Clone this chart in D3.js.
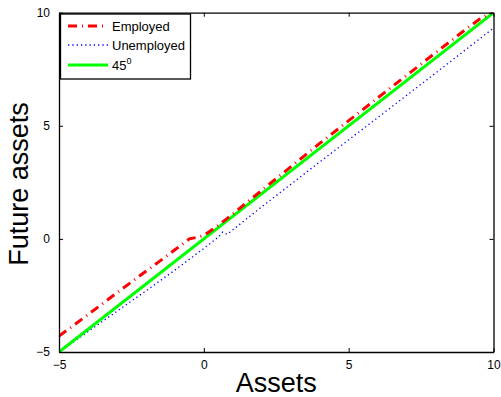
<!DOCTYPE html>
<html>
<head>
<meta charset="utf-8">
<script src="https://cdn.jsdelivr.net/npm/d3@7"></script>
<style>
  body { margin: 0; background: #fff; }
  text { font-family: "Liberation Sans", Arial, sans-serif; }
</style>
</head>
<body>
<div id="chart"></div>
<script>
// values
var employedX = [-5, -4, -3, -2, -1.5, -1, -0.5, -0.2, 0, 0.5, 1, 2, 4, 6, 8, 9, 9.5, 10];
var employedY = [-4.3, -3.35, -2.38, -1.43, -0.96, -0.48, 0.0, 0.08, 0.15, 0.6, 1.1, 2.15, 4.22, 6.23, 8.23, 9.22, 9.7, 10.05];
var unemployedX = [-5, -4, -3, -2, -1, 0, 0.5, 0.65, 0.8, 1, 2, 4, 6, 8, 10];
var unemployedY = [-5, -4.1, -3.2, -2.3, -1.38, -0.42, 0.08, 0.3, 0.2, 0.4, 1.42, 3.4, 5.36, 7.33, 9.32];
var diagX = [-5, 10];
var diagY = [-5, 10];
var xTicks = [-5, 0, 5, 10];
var yTicks = [-5, 0, 5, 10];
var legendLabels = ["Employed", "Unemployed", "45"];

var W = 501, H = 397;
var plotL = 59, plotR = 493.5, plotT = 12.7, plotB = 352;

var svg = d3.select("#chart").append("svg")
  .attr("width", W)
  .attr("height", H);

var x = d3.scaleLinear().domain([-5, 10]).range([plotL, plotR]);
var y = d3.scaleLinear().domain([-5, 10]).range([plotB, plotT]);

svg.append("clipPath").attr("id", "clip")
  .append("rect")
  .attr("x", plotL).attr("y", plotT)
  .attr("width", plotR - plotL).attr("height", plotB - plotT);

var line = d3.line()
  .x(function (d) { return x(d[0]); })
  .y(function (d) { return y(d[1]); });

var series = [
  { xs: unemployedX, ys: unemployedY, color: "#0000ff", width: 1.3, dash: "1.3,3" },
  { xs: diagX, ys: diagY, color: "#00ff00", width: 3, dash: null },
  { xs: employedX, ys: employedY, color: "#ff0000", width: 3, dash: "9,5,1,5" }
];

var plot = svg.append("g").attr("clip-path", "url(#clip)");
series.forEach(function (s) {
  plot.append("path")
    .datum(d3.zip(s.xs, s.ys))
    .attr("fill", "none")
    .attr("stroke", s.color)
    .attr("stroke-width", s.width)
    .attr("stroke-dasharray", s.dash)
    .attr("d", line);
});

// axes box with inward ticks on all four sides
var fmt = function (d) { return d < 0 ? "\u2212" + Math.abs(d) : d; };

svg.append("g")
  .attr("transform", "translate(0," + plotB + ")")
  .call(d3.axisBottom(x).tickValues(xTicks).tickSizeInner(-4).tickSizeOuter(0).tickPadding(8).tickFormat(fmt));
svg.append("g")
  .attr("transform", "translate(0," + plotT + ")")
  .call(d3.axisTop(x).tickValues(xTicks).tickSizeInner(-4).tickSizeOuter(0).tickFormat(""));
svg.append("g")
  .attr("transform", "translate(" + plotL + ",0)")
  .call(d3.axisLeft(y).tickValues(yTicks).tickSizeInner(-4).tickSizeOuter(0).tickPadding(9).tickFormat(fmt));
svg.append("g")
  .attr("transform", "translate(" + plotR + ",0)")
  .call(d3.axisRight(y).tickValues(yTicks).tickSizeInner(-4).tickSizeOuter(0).tickFormat(""));

svg.selectAll(".domain").attr("stroke", "#000").attr("stroke-width", 1.3);
svg.selectAll(".tick line").attr("stroke", "#000");
svg.selectAll(".tick text")
  .attr("fill", "#000")
  .style("font-size", "12px")
  .style("font-family", "'Liberation Sans', Arial, sans-serif");

// axis titles
svg.append("text")
  .attr("x", (plotL + plotR) / 2)
  .attr("y", 392)
  .attr("text-anchor", "middle")
  .style("font-size", "27px")
  .text("Assets");

svg.append("text")
  .attr("transform", "translate(28,184) rotate(-90)")
  .attr("text-anchor", "middle")
  .style("font-size", "27px")
  .text("Future assets");

// legend
var legend = svg.append("g");
legend.append("rect")
  .attr("x", 60.5).attr("y", 14)
  .attr("width", 130).attr("height", 65)
  .attr("fill", "#fff")
  .attr("stroke", "#000")
  .attr("stroke-width", 1.3);

var rowsY = [26, 45, 65];
var legendSeries = [series[2], series[0], series[1]];
legendSeries.forEach(function (s, i) {
  legend.append("line")
    .attr("x1", 68).attr("x2", 108)
    .attr("y1", rowsY[i]).attr("y2", rowsY[i])
    .attr("stroke", s.color)
    .attr("stroke-width", s.width)
    .attr("stroke-dasharray", s.dash);
  var t = legend.append("text")
    .attr("x", 112)
    .attr("y", rowsY[i] + 4.5)
    .style("font-size", "13px")
    .text(legendLabels[i]);
  if (i === 2) {
    t.append("tspan").attr("dy", -6).style("font-size", "9px").text("0");
  }
});
</script>
</body>
</html>
